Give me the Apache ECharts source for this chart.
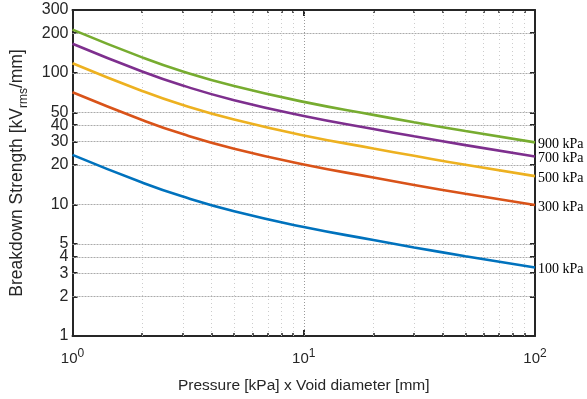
<!DOCTYPE html>
<html><head><meta charset="utf-8">
<script src="https://cdn.jsdelivr.net/npm/echarts@6/dist/echarts.min.js"></script>
<style>html,body{margin:0;padding:0;background:#fff}#c{width:587px;height:399px}</style>
</head><body><div id="c"></div>
<script>
const xValues = [1, 2, 3, 5, 10, 20, 30, 50, 100];
const s900 = [212.8, 130.9, 102.3, 79.3, 60.1, 47.9, 42.1, 36.1, 29.6];
const s700 = [166.3, 102.3, 80.0, 61.9, 47.0, 37.4, 32.9, 28.2, 23.1];
const s500 = [118.3, 72.8, 56.9, 44.1, 33.4, 26.6, 23.4, 20.0, 16.4];
const s300 = [71.1, 43.8, 34.2, 26.5, 20.1, 16.0, 14.06, 12.05, 9.89];
const s100 = [23.8, 14.66, 11.46, 8.87, 6.73, 5.36, 4.71, 4.04, 3.31];
const seriesNames = ['100 kPa', '300 kPa', '500 kPa', '700 kPa', '900 kPa'];
const seriesColors = ['#0072BD', '#D95319', '#EDB120', '#7E2F8E', '#77AC30'];
const yTickValues = [1, 2, 3, 4, 5, 10, 20, 30, 40, 50, 100, 200, 300];
const yGridValues = [2, 3, 4, 5, 10, 20, 30, 40, 50, 100, 200];
const xMinorValues = [2, 3, 4, 5, 6, 7, 8, 9, 20, 30, 40, 50, 60, 70, 80, 90];
const xMajorValues = [1, 10, 100];

const chart = echarts.init(document.getElementById('c'), null, {renderer: 'canvas'});
const allSeries = [s100, s300, s500, s700, s900];
const txt = '#262626';
const font = 'Liberation Sans, Arial, sans-serif';

const gridLines = [];
xMinorValues.forEach(v => gridLines.push({xAxis: v, lineStyle: {color: '#cccccc', type: [1, 3], width: 1}}));
gridLines.push({xAxis: 10, lineStyle: {color: '#999999', type: [1, 2], width: 1}});
yGridValues.forEach(v => gridLines.push({yAxis: v, lineStyle: {color: '#aaaaaa', type: [2, 1], width: 1}}));

const series = allSeries.map((arr, i) => ({
  name: seriesNames[i],
  type: 'line',
  smooth: 0.5,
  showSymbol: false,
  symbol: 'none',
  data: xValues.map((x, j) => [x, arr[j]]),
  lineStyle: {color: seriesColors[i], width: 2.6},
  itemStyle: {color: seriesColors[i]},
  z: 5,
  endLabel: {
    show: true,
    formatter: seriesNames[i],
    fontFamily: 'Liberation Serif, Times New Roman, serif',
    fontSize: 14,
    color: '#000',
    distance: 3,
    offset: [0, 2]
  }
}));
series.push({
  type: 'line',
  data: [],
  silent: true,
  z: 1,
  markLine: {
    silent: true,
    symbol: 'none',
    label: {show: false},
    animation: false,
    data: gridLines
  }
});

const axisLine = {show: true, onZero: false, lineStyle: {color: txt, width: 2}};
const noLine = {show: false};

function xAx(pos, ticks, len, withLine, labels) {
  const a = {
    type: 'log', logBase: 10, min: 1, max: 100,
    position: pos,
    axisLine: withLine ? axisLine : noLine,
    axisTick: {show: true, inside: true, length: len, lineStyle: {color: txt, width: withLine ? 2 : 1.5}, customValues: ticks},
    splitLine: {show: false},
    axisLabel: {show: false}
  };
  if (labels) {
    a.name = 'Pressure [kPa] x Void diameter [mm]';
    a.nameLocation = 'middle';
    a.nameGap = 42;
    a.nameTextStyle = {fontFamily: font, fontSize: 15.5, color: txt};
    a.axisLabel = {
      show: true,
      customValues: xMajorValues,
      margin: 12,
      fontFamily: font, fontSize: 15, color: txt,
      formatter: v => '10{sup|' + Math.round(Math.log10(v)) + '}',
      rich: {sup: {fontSize: 12, verticalAlign: 'bottom', padding: [0, 0, 10, 0], fontFamily: font, color: txt}}
    };
  }
  return a;
}

function yAx(pos, labels) {
  const a = {
    type: 'log', logBase: 10, min: 1, max: 300,
    position: pos,
    axisLine: axisLine,
    axisTick: {show: true, inside: true, length: 5, lineStyle: {color: txt, width: 2}, customValues: yTickValues},
    splitLine: {show: false},
    axisLabel: {show: false}
  };
  if (labels) {
    a.name = 'Breakdown Strength [kV{sub|rms}/mm]';
    a.nameLocation = 'middle';
    a.nameGap = 43;
    a.nameRotate = 90;
    a.nameTextStyle = {fontFamily: font, fontSize: 17.5, color: txt,
      rich: {sub: {fontSize: 12, verticalAlign: 'top', padding: [13, 0, 0, 0], fontFamily: font, color: txt}}};
    a.axisLabel = {show: true, customValues: yTickValues, margin: 4, fontFamily: font, fontSize: 16, color: txt};
  }
  return a;
}

chart.setOption({
  animation: false,
  backgroundColor: '#fff',
  grid: {left: 66, right: 52, top: 10, bottom: 60},
  xAxis: [
    xAx('bottom', xMajorValues, 6, true, true),
    xAx('top', xMajorValues, 6, true, false),
    xAx('bottom', xMinorValues, 3, false, false),
    xAx('top', xMinorValues, 3, false, false)
  ],
  yAxis: [yAx('left', true), yAx('right', false)],
  series: series
});
</script></body></html>
